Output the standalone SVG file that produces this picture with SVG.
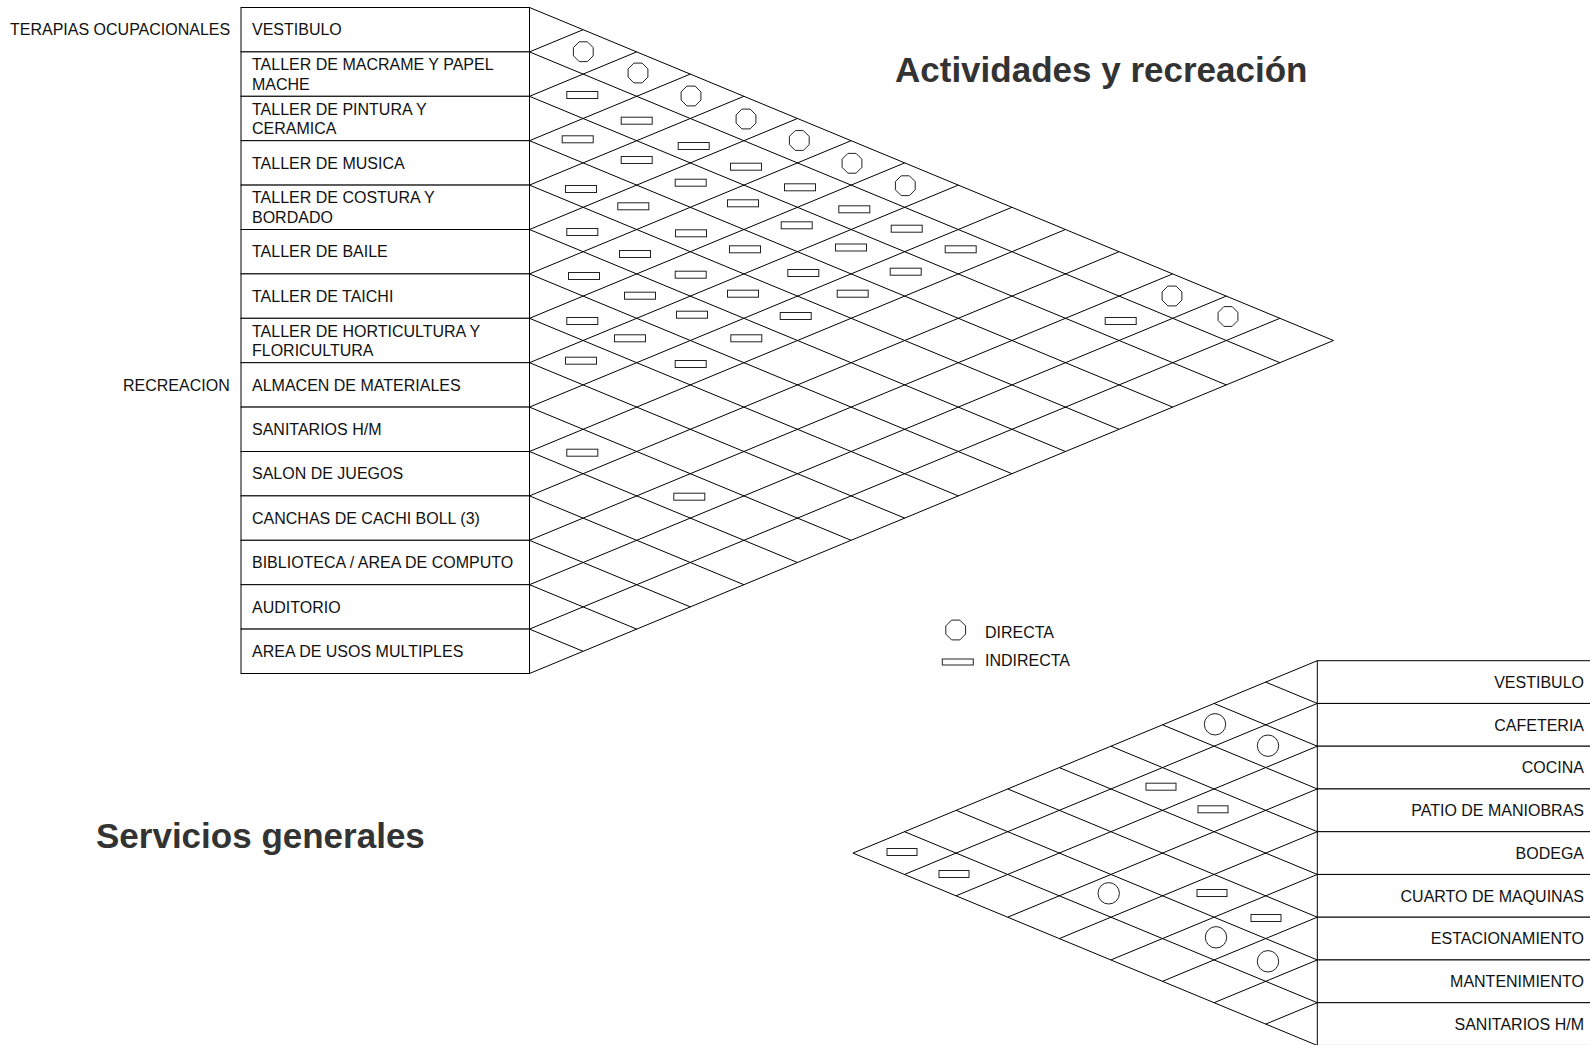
<svg xmlns="http://www.w3.org/2000/svg" width="1590" height="1045" viewBox="0 0 1590 1045">
<style>
.lbl{font-family:"Liberation Sans",Arial,sans-serif;font-size:16px;fill:#111}
.ttl{font-family:"Liberation Sans",Arial,sans-serif;font-size:35px;font-weight:bold;fill:#333}
.cell{fill:#fff;stroke:#000;stroke-width:1}
.grid{fill:none;stroke:#000;stroke-width:1}
.mk{fill:none;stroke:#222;stroke-width:1}
.r{text-anchor:end}
</style>
<defs>
<polygon id="oct" class="mk" points="9.9,-4.1 9.9,4.1 4.1,9.9 -4.1,9.9 -9.9,4.1 -9.9,-4.1 -4.1,-9.9 4.1,-9.9"/>
<rect id="ind" class="mk" x="-15.5" y="-3.5" width="31" height="7"/>
<rect id="ind2" class="mk" x="-15" y="-3.5" width="30" height="7"/>
<circle id="dir2" class="mk" r="10.7"/>
</defs>
<rect width="1590" height="1045" fill="#fff"/>

<g id="titles">
<text class="ttl" x="895" y="82">Actividades y recreación</text>
<text class="ttl" x="96" y="848">Servicios generales</text>
</g>

<g id="groups">
<text class="lbl" x="10" y="35.4">TERAPIAS OCUPACIONALES</text>
<text class="lbl" x="123" y="390.6">RECREACION</text>
</g>

<g id="top-table">
<g id="t0"><rect class="cell" x="241" y="7.5" width="288.5" height="44.4"/><text class="lbl" x="252" y="35.4">VESTIBULO</text></g>
<g id="t1"><rect class="cell" x="241" y="51.9" width="288.5" height="44.4"/><text class="lbl" x="252" y="70.4">TALLER DE MACRAME Y PAPEL</text><text class="lbl" x="252" y="90">MACHE</text></g>
<g id="t2"><rect class="cell" x="241" y="96.3" width="288.5" height="44.4"/><text class="lbl" x="252" y="114.6">TALLER DE PINTURA Y</text><text class="lbl" x="252" y="134.2">CERAMICA</text></g>
<g id="t3"><rect class="cell" x="241" y="140.7" width="288.5" height="44.4"/><text class="lbl" x="252" y="168.6">TALLER DE MUSICA</text></g>
<g id="t4"><rect class="cell" x="241" y="185.1" width="288.5" height="44.4"/><text class="lbl" x="252" y="203.4">TALLER DE COSTURA Y</text><text class="lbl" x="252" y="223">BORDADO</text></g>
<g id="t5"><rect class="cell" x="241" y="229.5" width="288.5" height="44.4"/><text class="lbl" x="252" y="257.4">TALLER DE BAILE</text></g>
<g id="t6"><rect class="cell" x="241" y="273.9" width="288.5" height="44.4"/><text class="lbl" x="252" y="301.8">TALLER DE TAICHI</text></g>
<g id="t7"><rect class="cell" x="241" y="318.3" width="288.5" height="44.4"/><text class="lbl" x="252" y="336.6">TALLER DE HORTICULTURA Y</text><text class="lbl" x="252" y="356.2">FLORICULTURA</text></g>
<g id="t8"><rect class="cell" x="241" y="362.7" width="288.5" height="44.4"/><text class="lbl" x="252" y="390.6">ALMACEN DE MATERIALES</text></g>
<g id="t9"><rect class="cell" x="241" y="407.1" width="288.5" height="44.4"/><text class="lbl" x="252" y="435">SANITARIOS H/M</text></g>
<g id="t10"><rect class="cell" x="241" y="451.5" width="288.5" height="44.4"/><text class="lbl" x="252" y="479.4">SALON DE JUEGOS</text></g>
<g id="t11"><rect class="cell" x="241" y="495.9" width="288.5" height="44.4"/><text class="lbl" x="252" y="523.8">CANCHAS DE CACHI BOLL (3)</text></g>
<g id="t12"><rect class="cell" x="241" y="540.3" width="288.5" height="44.4"/><text class="lbl" x="252" y="568.2">BIBLIOTECA / AREA DE COMPUTO</text></g>
<g id="t13"><rect class="cell" x="241" y="584.7" width="288.5" height="44.4"/><text class="lbl" x="252" y="612.6">AUDITORIO</text></g>
<g id="t14"><rect class="cell" x="241" y="629.1" width="288.5" height="44.4"/><text class="lbl" x="252" y="657">AREA DE USOS MULTIPLES</text></g>
</g>

<g id="bottom-table">
<g id="b0"><rect class="cell" x="1317.3" y="660.7" width="290" height="42.75"/><text class="lbl r" x="1584" y="687.8">VESTIBULO</text></g>
<g id="b1"><rect class="cell" x="1317.3" y="703.45" width="290" height="42.75"/><text class="lbl r" x="1584" y="730.5">CAFETERIA</text></g>
<g id="b2"><rect class="cell" x="1317.3" y="746.2" width="290" height="42.75"/><text class="lbl r" x="1584" y="773.3">COCINA</text></g>
<g id="b3"><rect class="cell" x="1317.3" y="788.95" width="290" height="42.75"/><text class="lbl r" x="1584" y="816">PATIO DE MANIOBRAS</text></g>
<g id="b4"><rect class="cell" x="1317.3" y="831.7" width="290" height="42.75"/><text class="lbl r" x="1584" y="858.8">BODEGA</text></g>
<g id="b5"><rect class="cell" x="1317.3" y="874.45" width="290" height="42.75"/><text class="lbl r" x="1584" y="901.5">CUARTO DE MAQUINAS</text></g>
<g id="b6"><rect class="cell" x="1317.3" y="917.2" width="290" height="42.75"/><text class="lbl r" x="1584" y="944.3">ESTACIONAMIENTO</text></g>
<g id="b7"><rect class="cell" x="1317.3" y="959.95" width="290" height="42.75"/><text class="lbl r" x="1584" y="987">MANTENIMIENTO</text></g>
<g id="b8"><rect class="cell" x="1317.3" y="1002.7" width="290" height="42.75"/><text class="lbl r" x="1584" y="1029.8">SANITARIOS H/M</text></g>
</g>

<g id="connectors">
<path class="grid" d="M529.5 7.5L1333.5 340.5M529.5 51.9L1279.9 362.7M529.5 96.3L1226.3 384.9M529.5 140.7L1172.7 407.1M529.5 185.1L1119.1 429.3M529.5 229.5L1065.5 451.5M529.5 273.9L1011.9 473.7M529.5 318.3L958.3 495.9M529.5 362.7L904.7 518.1M529.5 407.1L851.1 540.3M529.5 451.5L797.5 562.5M529.5 495.9L743.9 584.7M529.5 540.3L690.3 606.9M529.5 584.7L636.7 629.1M529.5 629.1L583.1 651.3"/>
<path class="grid" d="M529.5 51.9L583.1 29.7M529.5 96.3L636.7 51.9M529.5 140.7L690.3 74.1M529.5 185.1L743.9 96.3M529.5 229.5L797.5 118.5M529.5 273.9L851.1 140.7M529.5 318.3L904.7 162.9M529.5 362.7L958.3 185.1M529.5 407.1L1011.9 207.3M529.5 451.5L1065.5 229.5M529.5 495.9L1119.1 251.7M529.5 540.3L1172.7 273.9M529.5 584.7L1226.3 296.1M529.5 629.1L1279.9 318.3M529.5 673.5L1333.5 340.5"/>
<path class="grid" d="M1317.3 660.7L852.9 853.1M1317.3 703.45L904.5 874.45M1317.3 746.2L956.1 895.8M1317.3 788.95L1007.7 917.2M1317.3 831.7L1059.3 938.6M1317.3 874.45L1110.9 959.95M1317.3 917.2L1162.5 981.3M1317.3 959.95L1214.1 1002.7M1317.3 1002.7L1265.7 1024.1"/>
<path class="grid" d="M1317.3 703.45L1265.7 682.1M1317.3 746.2L1214.1 703.45M1317.3 788.95L1162.5 724.8M1317.3 831.7L1110.9 746.2M1317.3 874.45L1059.3 767.6M1317.3 917.2L1007.7 788.95M1317.3 959.95L956.1 810.3M1317.3 1002.7L904.5 831.7M1317.3 1045.45L852.9 853.1"/>
</g>

<g id="top-markers">
<use href="#oct" x="583.3" y="51.7"/>
<use href="#oct" x="638" y="73"/>
<use href="#oct" x="691" y="96"/>
<use href="#oct" x="746" y="119"/>
<use href="#oct" x="799.3" y="140.5"/>
<use href="#oct" x="852" y="163.3"/>
<use href="#oct" x="905.3" y="185.7"/>
<use href="#oct" x="1172" y="296"/>
<use href="#oct" x="1228" y="316.5"/>
<use href="#ind" x="582.3" y="95"/>
<use href="#ind" x="636.7" y="120.7"/>
<use href="#ind" x="577.7" y="139.3"/>
<use href="#ind" x="693.7" y="146"/>
<use href="#ind" x="636.7" y="160"/>
<use href="#ind" x="746" y="166.7"/>
<use href="#ind" x="581" y="189"/>
<use href="#ind" x="690.7" y="182.7"/>
<use href="#ind" x="800" y="187.3"/>
<use href="#ind" x="633.3" y="206.3"/>
<use href="#ind" x="743" y="203.3"/>
<use href="#ind" x="854.3" y="209.3"/>
<use href="#ind" x="582.3" y="232"/>
<use href="#ind" x="691" y="233.3"/>
<use href="#ind" x="796.7" y="225.3"/>
<use href="#ind" x="906.7" y="228.7"/>
<use href="#ind" x="635" y="254"/>
<use href="#ind" x="745" y="249.3"/>
<use href="#ind" x="851" y="247.5"/>
<use href="#ind" x="960.7" y="249.3"/>
<use href="#ind" x="584" y="276"/>
<use href="#ind" x="690.7" y="274.7"/>
<use href="#ind" x="803.3" y="273"/>
<use href="#ind" x="905.7" y="271.7"/>
<use href="#ind" x="640" y="295.7"/>
<use href="#ind" x="743" y="293.7"/>
<use href="#ind" x="852.7" y="293.7"/>
<use href="#ind" x="582.3" y="321"/>
<use href="#ind" x="692" y="314.7"/>
<use href="#ind" x="795.7" y="316"/>
<use href="#ind" x="630" y="338.3"/>
<use href="#ind" x="746.3" y="338.3"/>
<use href="#ind" x="581" y="360.7"/>
<use href="#ind" x="690.7" y="364"/>
<use href="#ind" x="582.3" y="452.7"/>
<use href="#ind" x="689.3" y="496.7"/>
<use href="#ind" x="1120.7" y="321"/>
</g>

<g id="bottom-markers">
<use href="#dir2" x="1215" y="724.3"/>
<use href="#dir2" x="1268" y="745.7"/>
<use href="#dir2" x="1108.7" y="893.3"/>
<use href="#dir2" x="1216" y="937.3"/>
<use href="#dir2" x="1268" y="961.3"/>
<use href="#ind2" x="1161" y="786.7"/>
<use href="#ind2" x="1213" y="809.3"/>
<use href="#ind2" x="902" y="852"/>
<use href="#ind2" x="954" y="874"/>
<use href="#ind2" x="1212" y="893"/>
<use href="#ind2" x="1266" y="918"/>
</g>

<g id="legend">
<use href="#oct" x="955.7" y="630"/>
<text class="lbl" x="985" y="637.5">DIRECTA</text>
<rect class="mk" x="942.3" y="659" width="31" height="6"/>
<text class="lbl" x="985" y="666">INDIRECTA</text>
</g>
</svg>
